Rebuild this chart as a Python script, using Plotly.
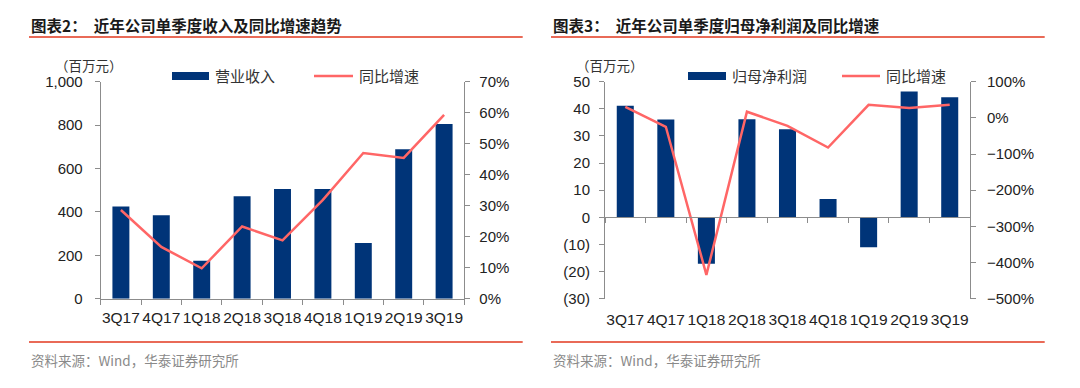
import plotly.graph_objects as go

# ---------------- data ----------------
quarters = ["3Q17", "4Q17", "1Q18", "2Q18", "3Q18", "4Q18", "1Q19", "2Q19", "3Q19"]
revenue = [425, 385, 175, 472, 505, 506, 257, 689, 805]            # 百万元
revenue_yoy = [28.6, 16.7, 9.8, 23.3, 18.8, 31.9, 47.0, 45.4, 59.3]  # %
profit = [41.1, 36.1, -17.1, 36.2, 32.5, 6.8, -11.0, 46.4, 44.3]     # 百万元
profit_yoy = [30.7, -24.6, -434.0, 17.0, -22.0, -82.0, 36.0, 27.0, 36.0]  # %

left_ticks = [0, 200, 400, 600, 800, 1000]
left_ticktext = ["0", "200", "400", "600", "800", "1,000"]
right_ticks2 = [-30, -20, -10, 0, 10, 20, 30, 40, 50]
right_ticktext2 = ["(30)", "(20)", "(10)", "0", "10", "20", "30", "40", "50"]

# ---------------- style ----------------
W, H = 1080, 388
BAR = "#003478"
LINE = "#FF6666"
RED = "#E2391F"
AX = "#8C8C8C"
NUM_FONT = "Liberation Sans, Arial"
CJK_FONT = "Noto Sans CJK SC"


def px(x):
    return x / W


def py(y):
    return 1 - y / H


dom_y = [py(298.7), py(81.7)]
dom_x1 = [px(100.7), px(464.3)]
dom_x2 = [px(605), px(970)]

fig = go.Figure()

# left chart
fig.add_trace(go.Bar(x=quarters, y=revenue, marker=dict(color=BAR, line=dict(width=0)),
                     width=0.42, xaxis="x", yaxis="y", showlegend=False))
fig.add_trace(go.Scatter(x=quarters, y=revenue_yoy, mode="lines", line=dict(color=LINE, width=2.5),
                         xaxis="x", yaxis="y2", showlegend=False))
# right chart
fig.add_trace(go.Bar(x=quarters, y=profit, marker=dict(color=BAR, line=dict(width=0)),
                     width=0.42, xaxis="x2", yaxis="y3", showlegend=False))
fig.add_trace(go.Scatter(x=quarters, y=profit_yoy, mode="lines", line=dict(color=LINE, width=2.5),
                         xaxis="x2", yaxis="y4", showlegend=False))

tickfont = dict(family=NUM_FONT, size=15, color="#222")
xtickfont = dict(family=NUM_FONT, size=15.5, color="#222")
n = len(quarters)
boundaries = [i - 0.5 for i in range(n + 1)]

# zero line position for right chart (paper coords)
r_lo, r_hi = -30, 50
zero_pos = dom_y[0] + (0 - r_lo) / (r_hi - r_lo) * (dom_y[1] - dom_y[0])

common = dict(showgrid=False, zeroline=False, automargin=False, linecolor=AX, tickcolor=AX, ticklen=5)

fig.update_layout(
    width=W, height=H, autosize=False,
    margin=dict(l=0, r=0, t=0, b=0, pad=0, autoexpand=False),
    showlegend=False,
    paper_bgcolor="white", plot_bgcolor="white",
    bargap=0.58,
    xaxis=dict(domain=dom_x1, anchor="y", type="category", showline=True, linewidth=1,
               ticks="outside", tickson="boundaries", tickangle=0, ticklabelstandoff=5,
               tickfont=xtickfont, **common),
    yaxis=dict(domain=dom_y, anchor="x", range=[0, 1000], tickvals=left_ticks, ticktext=left_ticktext,
               showline=True, ticks="outside", ticklabelstandoff=9, tickfont=tickfont, **common),
    yaxis2=dict(domain=dom_y, anchor="x", overlaying="y", side="right", range=[0, 70], dtick=10,
                ticksuffix="%", showline=True, ticks="outside", ticklabelstandoff=6,
                tickfont=tickfont, **common),
    xaxis2=dict(domain=dom_x2, anchor="y3", type="category", showline=False, ticks="", tickangle=0,
                ticklabelstandoff=10, tickfont=xtickfont, **common),
    xaxis3=dict(domain=dom_x2, anchor="free", position=zero_pos, overlaying="x2",
                range=[-0.5, n - 0.5], tickvals=boundaries, showticklabels=False,
                showline=True, ticks="outside", **common),
    yaxis3=dict(domain=dom_y, anchor="x2", range=[r_lo, r_hi], tickvals=right_ticks2,
                ticktext=right_ticktext2, showline=True, ticks="outside", ticklabelstandoff=6,
                tickfont=tickfont, **common),
    yaxis4=dict(domain=dom_y, anchor="x2", overlaying="y3", side="right", range=[-500, 100], dtick=100,
                ticksuffix="%", showline=True, ticks="outside", ticklabelstandoff=8,
                tickfont=tickfont, **common),
)

# invisible trace so xaxis3 is rendered
fig.add_trace(go.Scatter(x=[0], y=[0], xaxis="x3", yaxis="y3", mode="markers",
                         marker=dict(opacity=0), showlegend=False, hoverinfo="skip"))

shapes = []
annotations = []

# title rules and footer rules
for x0, x1 in [(29, 522.7), (551, 1044.7)]:
    shapes.append(dict(type="line", xref="paper", yref="paper", x0=px(x0), x1=px(x1), y0=py(37), y1=py(37),
                       line=dict(color=RED, width=1.5)))
    shapes.append(dict(type="line", xref="paper", yref="paper", x0=px(x0), x1=px(x1), y0=py(342), y1=py(342),
                       line=dict(color=RED, width=1.5)))

titles = [(29, "图表2：  近年公司单季度收入及同比增速趋势"), (551, "图表3：  近年公司单季度归母净利润及同比增速")]
for x, t in titles:
    annotations.append(dict(xref="paper", yref="paper", x=px(x), y=py(25), xanchor="left", yanchor="middle",
                            text="<b>" + t + "</b>", showarrow=False,
                            font=dict(family=CJK_FONT, size=15.5, color="#1a1a1a")))
    annotations.append(dict(xref="paper", yref="paper", x=px(x), y=py(360), xanchor="left", yanchor="middle",
                            text="资料来源：Wind，华泰证券研究所", showarrow=False,
                            font=dict(family=CJK_FONT, size=13.5, color="#8a8a8a")))

# unit labels
for x in [53, 574]:
    annotations.append(dict(xref="paper", yref="paper", x=px(x), y=py(65), xanchor="left", yanchor="middle",
                            text="（百万元）", showarrow=False, font=dict(family=CJK_FONT, size=13.5, color="#333")))

# legends (swatches + labels)
legends = [
    (172, 209, "营业收入", 314, 353),
    (688, 726, "归母净利润", 842, 880),
]
for bx0, bx1, label, lx0, lx1 in legends:
    shapes.append(dict(type="rect", xref="paper", yref="paper", x0=px(bx0), x1=px(bx1), y0=py(80), y1=py(72),
                       fillcolor=BAR, line=dict(width=0)))
    annotations.append(dict(xref="paper", yref="paper", x=px(bx1 + 4), y=py(76), xanchor="left", yanchor="middle",
                            text=label, showarrow=False, font=dict(family=CJK_FONT, size=15, color="#333")))
    shapes.append(dict(type="line", xref="paper", yref="paper", x0=px(lx0), x1=px(lx1), y0=py(76), y1=py(76),
                       line=dict(color=LINE, width=2.5)))
    annotations.append(dict(xref="paper", yref="paper", x=px(lx1 + 4), y=py(76), xanchor="left", yanchor="middle",
                            text="同比增速", showarrow=False, font=dict(family=CJK_FONT, size=15, color="#333")))

fig.update_layout(shapes=shapes, annotations=annotations)
fig.write_html("out.html", config={"displayModeBar": False, "responsive": False},
               post_script="document.body.style.margin='0';document.body.style.overflow='hidden';")
